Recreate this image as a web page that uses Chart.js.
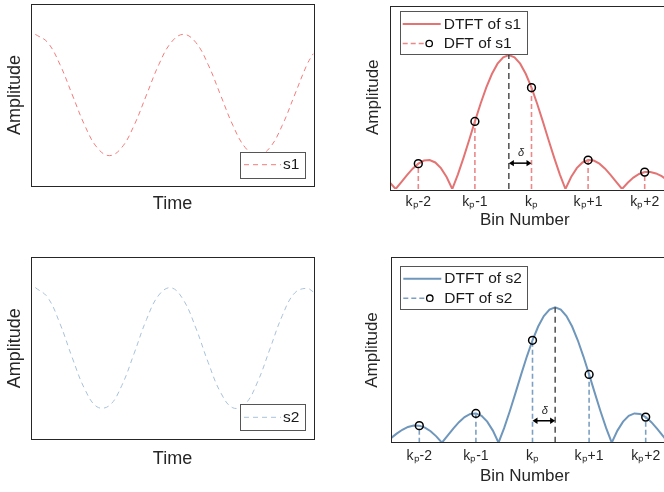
<!DOCTYPE html>
<html>
<head>
<meta charset="utf-8">
<script src="https://cdn.jsdelivr.net/npm/chart.js@4.4.1/dist/chart.umd.min.js"></script>
<style>
html,body{margin:0;padding:0;background:#fff;overflow:hidden;width:664px;height:492px;position:relative}
canvas{position:absolute}
</style>
</head>
<body>
<canvas id="c1" width="332" height="230" style="left:0;top:0"></canvas>
<canvas id="c2" width="360" height="230" style="left:332px;top:0"></canvas>
<canvas id="c3" width="332" height="247" style="left:0;top:245px"></canvas>
<canvas id="c4" width="360" height="247" style="left:332px;top:245px"></canvas>
<script>
// ---------- data ----------
const timeAxis = [0,1,2,3,4,5,6,7,8,9,10,11,12,13,14,15,16,17,18,19,20,21,22,22.5];
const s1Values = [1,0.866,0.5,0,-0.5,-0.866,-1,-0.866,-0.5,0,0.5,0.866,1,0.866,0.5,0,-0.5,-0.866,-1,-0.866,-0.5,0,0.5,0.68];
const s2Values = [1,0.838,0.403,-0.163,-0.675,-0.969,-0.947,-0.618,-0.088,0.471,0.876,0.997,0.794,0.333,-0.236,-0.729,-0.985,-0.921,-0.558,-0.013,0.536,0.910,0.989,0.93];

const binOffsets = [-2.5,-2.4,-2.3,-2.2,-2.1,-2.0,-1.9,-1.8,-1.7,-1.6,-1.5,-1.4,-1.3,-1.2,-1.1,-1.0,-0.9,-0.8,-0.7,-0.6,-0.5,-0.4,-0.3,-0.2,-0.1,0,0.1,0.2,0.3,0.4,0.5,0.6,0.7,0.8,0.9,1.0,1.1,1.2,1.3,1.4,1.5,1.6,1.7,1.8,1.9,2.0,2.1,2.2,2.3,2.4,2.5];
const dtft1 = [0.0468,0,0.0518,0.1039,0.1515,0.1892,0.2122,0.2162,0.1981,0.1559,0.0894,0,0.1093,0.2339,0.3679,0.5046,0.6366,0.7568,0.8584,0.9355,0.9836,1,0.9836,0.9355,0.8584,0.7568,0.6366,0.5046,0.3679,0.2339,0.1093,0,0.0894,0.1559,0.1981,0.2162,0.2122,0.1892,0.1515,0.1039,0.0518,0,0.0468,0.0850,0.1120,0.1261,0.1273,0.1164,0.0954,0.0668,0.0339];
const dtft2 = [0.0339,0.0668,0.0954,0.1164,0.1273,0.1261,0.1120,0.0850,0.0468,0,0.0518,0.1039,0.1515,0.1892,0.2122,0.2162,0.1981,0.1559,0.0894,0,0.1093,0.2339,0.3679,0.5046,0.6366,0.7568,0.8584,0.9355,0.9836,1,0.9836,0.9355,0.8584,0.7568,0.6366,0.5046,0.3679,0.2339,0.1093,0,0.0894,0.1559,0.1981,0.2162,0.2122,0.1892,0.1515,0.1039,0.0518,0,0.0468];

const dftBins = [-2,-1,0,1,2];
const dft1 = [0.1892,0.5046,0.7568,0.2162,0.1261];
const dft2 = [0.1261,0.2162,0.7568,0.5046,0.1892];
const binTickLabels = ['kₚ-2','kₚ-1','kₚ','kₚ+1','kₚ+2'];

const peak1 = -0.4, peak2 = 0.4;
const arrowLevel1 = 0.193, arrowLevel2 = 0.162;

// ---------- styles ----------
const FONT = '"Liberation Sans", Arial, Helvetica, sans-serif';
const AX = '#262626';
Chart.defaults.font.family = FONT;
Chart.defaults.color = AX;

const RED = '#E47474', RED_STEM = '#EC8888', RED_SIG = '#F47C7C';
const BLUE = '#6F97BC', BLUE_STEM = '#7CA0C2', BLUE_SIG = '#A9C2DA';

// ---------- plugins ----------
const framePlugin = {
  id: 'frame',
  afterDraw(chart) {
    const a = chart.chartArea, ctx = chart.ctx;
    ctx.save();
    ctx.strokeStyle = AX; ctx.lineWidth = 1;
    ctx.strokeRect(Math.round(a.left) + 0.5, Math.round(a.top) + 0.5, Math.round(a.right - a.left), Math.round(a.bottom - a.top));
    ctx.restore();
  }
};

const legendPlugin = {
  id: 'boxLegend',
  afterDraw(chart, args, o) {
    if (!o || !o.box) return;
    const ctx = chart.ctx;
    const [bx, by, bw, bh] = o.box;
    ctx.save();
    ctx.fillStyle = '#fff';
    ctx.fillRect(bx, by, bw, bh);
    ctx.strokeStyle = '#555'; ctx.lineWidth = 1;
    ctx.strokeRect(Math.round(bx) + 0.5, Math.round(by) + 0.5, Math.round(bw), Math.round(bh));
    o.items.forEach(it => {
      ctx.save();
      ctx.strokeStyle = it.color; ctx.lineWidth = it.width;
      ctx.setLineDash(it.dash || []);
      ctx.beginPath(); ctx.moveTo(it.x0, it.y); ctx.lineTo(it.x1, it.y); ctx.stroke();
      ctx.setLineDash([]);
      if (it.marker !== undefined) {
        ctx.beginPath(); ctx.arc(it.marker, it.y, 3.2, 0, Math.PI * 2);
        ctx.strokeStyle = '#000'; ctx.lineWidth = 1.3; ctx.stroke();
      }
      ctx.fillStyle = '#1a1a1a';
      ctx.font = '15.5px ' + FONT;
      ctx.textBaseline = 'middle'; ctx.textAlign = 'left';
      ctx.fillText(it.text, it.tx, it.y + 0.5);
      ctx.restore();
    });
    ctx.restore();
  }
};

const arrowPlugin = {
  id: 'deltaArrow',
  afterDatasetsDraw(chart, args, o) {
    if (!o || o.from === undefined) return;
    const xs = chart.scales.x, ys = chart.scales.y, ctx = chart.ctx;
    const xa = Math.min(xs.getPixelForValue(o.from), xs.getPixelForValue(o.to));
    const xb = Math.max(xs.getPixelForValue(o.from), xs.getPixelForValue(o.to));
    const y = ys.getPixelForValue(o.level);
    const hl = 5, hw = 3.2;
    ctx.save();
    ctx.strokeStyle = '#000'; ctx.fillStyle = '#000'; ctx.lineWidth = 1.5;
    ctx.beginPath(); ctx.moveTo(xa + hl - 1, y); ctx.lineTo(xb - hl + 1, y); ctx.stroke();
    ctx.beginPath(); ctx.moveTo(xa, y); ctx.lineTo(xa + hl, y - hw); ctx.lineTo(xa + hl, y + hw); ctx.closePath(); ctx.fill();
    ctx.beginPath(); ctx.moveTo(xb, y); ctx.lineTo(xb - hl, y - hw); ctx.lineTo(xb - hl, y + hw); ctx.closePath(); ctx.fill();
    ctx.font = 'italic 11px ' + FONT;
    ctx.textAlign = 'center'; ctx.textBaseline = 'middle';
    ctx.fillStyle = '#222';
    ctx.fillText('δ', (xa + xb) / 2 + 1, y - 10);
    ctx.restore();
  }
};

const xTitlePlugin = {
  id: 'xTitle',
  afterDraw(chart, args, o) {
    if (!o || !o.text) return;
    const ctx = chart.ctx;
    ctx.save();
    ctx.font = o.size + 'px ' + FONT;
    ctx.fillStyle = AX; ctx.textAlign = 'center'; ctx.textBaseline = 'middle';
    ctx.fillText(o.text, o.x, o.y);
    ctx.restore();
  }
};

// ---------- builders ----------
function signalChart(id, label, values, color, cfg) {
  return new Chart(document.getElementById(id), {
    type: 'line',
    data: {
      datasets: [{
        label: label,
        data: timeAxis.map((t, i) => ({ x: t, y: values[i] })),
        borderColor: color, borderWidth: 1, borderDash: [5, 4],
        pointRadius: 0, tension: 0.4, fill: false
      }]
    },
    options: {
      responsive: false, animation: false, events: [],
      layout: { padding: { left: 0, top: cfg.top, right: 18, bottom: 0 } },
      plugins: {
        legend: { display: false }, tooltip: { enabled: false },
        boxLegend: {
          box: [240, cfg.legY, 65, 25.6],
          items: [{ text: label, color: color, width: 1, dash: [5, 4], x0: 244, x1: 281, y: cfg.legY + 13, tx: 283 }]
        }
      },
      scales: {
        x: {
          type: 'linear', min: -0.35, max: 22.57,
          grid: { display: false, drawTicks: false }, border: { display: false },
          ticks: { display: false },
          title: { display: true, text: 'Time', color: AX, font: { size: 18, lineHeight: 1 }, padding: { top: 0, bottom: cfg.timePad } },
          afterFit(s) { s.height = cfg.xH; }
        },
        y: {
          min: -1.5, max: 1.5,
          grid: { display: false, drawTicks: false }, border: { display: false },
          ticks: { display: false },
          title: { display: true, text: 'Amplitude', color: AX, font: { size: 18, lineHeight: 1 }, padding: { top: 6, bottom: 0 } },
          afterFit(s) { s.width = 31; }
        }
      }
    },
    plugins: [framePlugin, legendPlugin]
  });
}

function spectrumChart(id, n, dtft, dft, peak, level, lineColor, stemColor, cfg) {
  const stems = [];
  dftBins.forEach((b, i) => { stems.push({ x: b, y: 0 }, { x: b, y: dft[i] }, { x: b, y: null }); });
  return new Chart(document.getElementById(id), {
    type: 'line',
    data: {
      datasets: [
        { label: 'DFT of ' + n, data: dftBins.map((b, i) => ({ x: b, y: dft[i] })), showLine: false,
          pointRadius: 3.9, pointBorderWidth: 1.5, pointBorderColor: '#000', pointBackgroundColor: 'rgba(0,0,0,0)' },
        { label: 'peak', data: [{ x: peak, y: 0 }, { x: peak, y: 1 }], borderColor: '#333', borderWidth: 1.3,
          borderDash: [6, 4], pointRadius: 0 },
        { label: 'stems', data: stems, borderColor: stemColor, borderWidth: 1.6, borderDash: [5, 3],
          pointRadius: 0, spanGaps: false },
        { label: 'DTFT of ' + n, data: binOffsets.map((b, i) => ({ x: b, y: dtft[i] })), borderColor: lineColor,
          borderWidth: 2, pointRadius: 0, tension: 0 }
      ]
    },
    options: {
      responsive: false, animation: false, events: [],
      layout: { padding: { left: 0, top: cfg.top, right: cfg.right, bottom: 0 } },
      plugins: {
        legend: { display: false }, tooltip: { enabled: false },
        deltaArrow: { from: peak, to: 0, level: level },
        xTitle: { text: 'Bin Number', x: 192.8, y: cfg.titleY, size: 17 },
        boxLegend: {
          box: [cfg.legX, cfg.legY, 126.6, 43.3],
          items: [
            { text: 'DTFT of ' + n, color: lineColor, width: 2, x0: cfg.legX + 3, x1: cfg.legX + 41, y: cfg.legY + 13, tx: cfg.legX + 44 },
            { text: 'DFT of ' + n, color: stemColor, width: 1.5, dash: [5, 3], x0: cfg.legX + 3, x1: cfg.legX + 25, y: cfg.legY + 32.5, tx: cfg.legX + 44, marker: cfg.legX + 29.5 }
          ]
        }
      },
      scales: {
        x: {
          type: 'linear', min: -2.5, max: 2.5,
          grid: { display: false, drawTicks: false }, border: { display: false },
          afterBuildTicks(s) { s.ticks = dftBins.map(v => ({ value: v })); },
          ticks: {
            color: AX, font: { size: 14 }, padding: cfg.tickPad, maxRotation: 0, autoSkip: false,
            callback(v) { const i = dftBins.indexOf(v); return i >= 0 ? binTickLabels[i] : ''; }
          },
          title: { display: false },
          afterFit(s) { s.height = cfg.xH; }
        },
        y: {
          min: 0, max: 1.37,
          grid: { display: false, drawTicks: false }, border: { display: false },
          ticks: { display: false },
          title: { display: true, text: 'Amplitude', color: AX, font: { size: 17, lineHeight: 1 }, padding: { top: cfg.ampPad, bottom: 0 } },
          afterFit(s) { s.width = cfg.yW; }
        }
      }
    },
    plugins: [arrowPlugin, framePlugin, legendPlugin, xTitlePlugin]
  });
}

signalChart('c1', 's1', s1Values, RED_SIG, { top: 4, xH: 44, timePad: 17, legY: 151.7 });
signalChart('c3', 's2', s2Values, BLUE_SIG, { top: 12.3, xH: 53, timePad: 24, legY: 159.3 });

spectrumChart('c2', 's1', dtft1, dft1, peak1, arrowLevel1, RED, RED_STEM,
  { top: 2.3, right: 19, xH: 41, tickPad: 4.3, yW: 58, ampPad: 33.2, titleY: 220, legX: 67.7, legY: 11 });
spectrumChart('c4', 's2', dtft2, dft2, peak2, arrowLevel2, BLUE, BLUE_STEM,
  { top: 12.3, right: 18, xH: 49.3, tickPad: 4.6, yW: 59, ampPad: 31.5, titleY: 231.7, legX: 68.3, legY: 20.7 });
</script>
</body>
</html>
